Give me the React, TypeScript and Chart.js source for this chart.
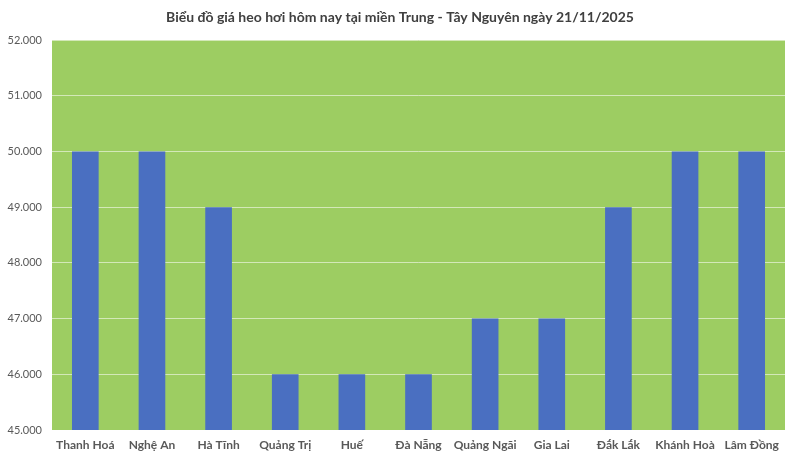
import React, { useEffect, useRef } from "react";
import { Chart, registerables } from "chart.js";

Chart.register(...registerables);

const titleText = "Biểu đồ giá heo hơi hôm nay tại miền Trung - Tây Nguyên ngày 21/11/2025";
const categories = [
  "Thanh Hoá",
  "Nghệ An",
  "Hà Tĩnh",
  "Quảng Trị",
  "Huế",
  "Đà Nẵng",
  "Quảng Ngãi",
  "Gia Lai",
  "Đắk Lắk",
  "Khánh Hoà",
  "Lâm Đồng",
];
const prices = [50000, 50000, 49000, 46000, 46000, 46000, 47000, 47000, 49000, 50000, 50000];
const yMin = 45000;
const yMax = 52000;
const yStep = 1000;

const FONT = "Lato, 'Open Sans', sans-serif";

export default function App() {
  const ref = useRef<HTMLCanvasElement>(null);
  useEffect(() => {
    document.body.style.margin = "0";
    const bgPlugin = {
      id: "bg",
      beforeDraw(chart: any) {
        const { ctx, chartArea } = chart;
        ctx.save();
        ctx.fillStyle = "#fff";
        ctx.fillRect(0, 0, chart.width, chart.height);
        ctx.fillStyle = "#9DCD62";
        ctx.fillRect(chartArea.left, chartArea.top, chartArea.right - chartArea.left, chartArea.bottom - chartArea.top);
        ctx.fillStyle = "#404040";
        ctx.font = `bold 14px ${FONT}`;
        ctx.textAlign = "center";
        ctx.textBaseline = "middle";
        ctx.fillText(titleText, 400, 17);
        ctx.restore();
      },
    };
    const chart = new Chart(ref.current!, {
      type: "bar",
      data: {
        labels: categories,
        datasets: [
          {
            data: prices,
            backgroundColor: "#4A6FC1",
            barPercentage: 0.4,
            categoryPercentage: 1,
          },
        ],
      },
      options: {
        animation: false,
        responsive: false,
        maintainAspectRatio: false,
        layout: { padding: { top: 40, right: 15, left: 0, bottom: 0 } },
        plugins: { legend: { display: false }, title: { display: false }, tooltip: { enabled: false } },
        scales: {
          x: {
            grid: { display: false, drawTicks: false },
            border: { display: false },
            ticks: {
              color: "#595959",
              font: { family: FONT, size: 12, weight: "bold" },
              maxRotation: 0,
              autoSkip: false,
              padding: 8,
            },
            afterFit(scale: any) {
              scale.height = 30;
            },
          },
          y: {
            min: yMin,
            max: yMax,
            grid: { color: "rgba(255,255,255,0.55)", lineWidth: 1, drawTicks: false },
            border: { display: false },
            ticks: {
              stepSize: yStep,
              color: "#595959",
              font: { family: FONT, size: 11 },
              padding: 10,
              callback: (v: any) => (Number(v) / 1000).toFixed(3),
            },
            afterFit(scale: any) {
              scale.width = 52;
            },
          },
        },
      },
      plugins: [bgPlugin],
    });
    return () => chart.destroy();
  }, []);
  return <canvas ref={ref} width={800} height={460} style={{ display: "block" }} />;
}
